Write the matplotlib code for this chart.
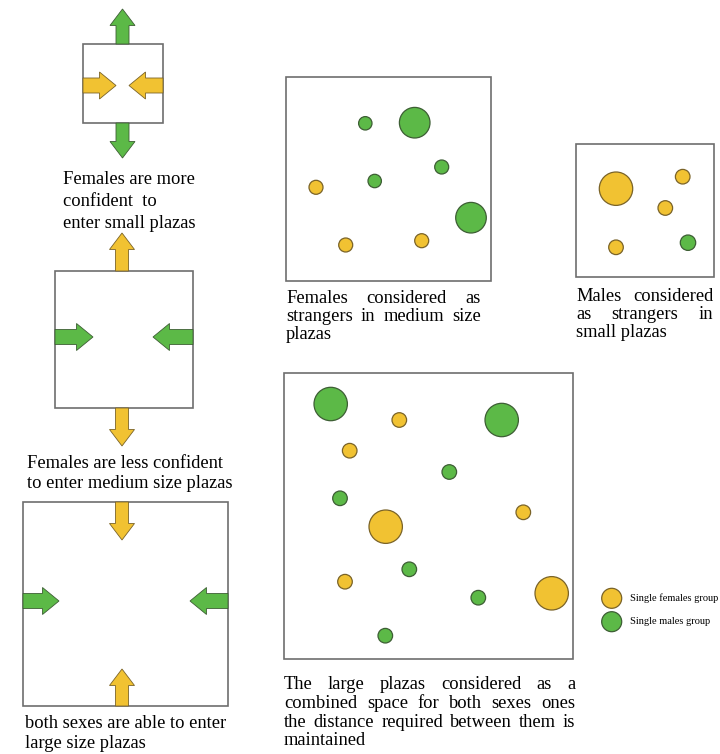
import matplotlib
matplotlib.use('Agg')
import matplotlib.pyplot as plt
from matplotlib.patches import Circle, Rectangle, FancyArrow

# ---- data (pixel coordinates of the original drawing) ----
GREEN, GREEN_EDGE = '#5cb947', '#3d5e34'
YELLOW, YELLOW_EDGE = '#f1c232', '#7a6328'

# plaza boxes: left, top, size
box_left = [83, 55, 23, 286, 576, 284]
box_top = [44, 271, 502, 77, 144, 373]
box_w = [80, 138, 205, 205, 138, 289]
box_h = [79, 137, 204, 204, 133, 286]

# block arrows: start x/y, end x/y, group
arrow_x0 = [122.5, 122.5, 83, 163, 122, 122, 55, 193, 122, 122, 23, 228]
arrow_y0 = [44, 123, 85.5, 85.5, 271, 408, 337, 337, 502, 706, 601, 601]
arrow_x1 = [122.5, 122.5, 116, 129, 122, 122, 93, 153, 122, 122, 59, 190]
arrow_y1 = [9, 158, 85.5, 85.5, 233, 446, 337, 337, 540, 669, 601, 601]
arrow_grp = ['m', 'm', 'f', 'f', 'f', 'f', 'm', 'm', 'f', 'f', 'm', 'm']

# groups in the medium plaza
med_x = [365.3, 414.7, 441.7, 374.7, 316, 471, 345.7, 421.7]
med_y = [123.3, 122.7, 167, 181, 187.3, 217.7, 245, 240.7]
med_r = [6.7, 15.3, 7, 6.7, 7, 15.3, 7, 7]
med_g = ['m', 'm', 'm', 'm', 'f', 'm', 'f', 'f']

# groups in the small plaza
small_x = [616, 682.7, 665.3, 616, 688]
small_y = [188.7, 176.7, 208, 247.3, 242.7]
small_r = [16.7, 7.3, 7.3, 7.3, 7.7]
small_g = ['f', 'f', 'f', 'f', 'm']

# groups in the large plaza
large_x = [330.7, 399.3, 501.7, 349.7, 449.3, 340, 523.3, 385.7, 409.3, 345, 478.3, 551.7, 385.3]
large_y = [404, 420, 420, 450.7, 472, 498.3, 512.3, 526.7, 569.3, 581.7, 597.7, 593.3, 635.7]
large_r = [16.7, 7.3, 16.7, 7.3, 7.3, 7.3, 7.3, 16.7, 7.3, 7.3, 7.3, 16.7, 7.3]
large_g = ['m', 'f', 'm', 'f', 'm', 'm', 'f', 'f', 'm', 'f', 'm', 'f', 'm']

legend_labels = ['Single females group', 'Single males group']

cap_small = ['Females are more', 'confident  to', 'enter small plazas']
cap_medium = ['Females are less confident', 'to enter medium size plazas']
cap_large = ['both sexes are able to enter', 'large size plazas']
cap_med_strangers = ['Females considered as', 'strangers in medium size', 'plazas']
cap_small_strangers = ['Males considered', 'as strangers in', 'small plazas']
cap_combined = ['The large plazas considered as a', 'combined space for both sexes ones',
                'the distance required between them is', 'maintained']

FONT = 'Liberation Serif'
FS = 13.3

fig = plt.figure(figsize=(7.2, 7.54), dpi=100)
ax = fig.add_axes([0, 0, 1, 1])
ax.set_xlim(0, 720)
ax.set_ylim(754, 0)
ax.axis('off')
renderer = fig.canvas.get_renderer()

fill = {'f': (YELLOW, YELLOW_EDGE), 'm': (GREEN, GREEN_EDGE)}

for l, t, w, h in zip(box_left, box_top, box_w, box_h):
    ax.add_patch(Rectangle((l, t), w, h, fc='white', ec='#6e6e6e', lw=1.2, zorder=1))

for x0, y0, x1, y1, g in zip(arrow_x0, arrow_y0, arrow_x1, arrow_y1, arrow_grp):
    horiz = y0 == y1
    ax.add_patch(FancyArrow(x0, y0, x1 - x0, y1 - y0, width=15 if horiz else 13,
                            head_width=27 if horiz else 25, head_length=16.5,
                            length_includes_head=True, fc=fill[g][0], ec=fill[g][1],
                            lw=0.6, zorder=3))

for xs, ys, rs, gs in [(med_x, med_y, med_r, med_g), (small_x, small_y, small_r, small_g),
                       (large_x, large_y, large_r, large_g)]:
    for x, y, r, g in zip(xs, ys, rs, gs):
        ax.add_patch(Circle((x, y), r, fc=fill[g][0], ec=fill[g][1], lw=0.9, zorder=3))

# legend
for i, (lab, g) in enumerate(zip(legend_labels, ['f', 'm'])):
    y = 598.3 + i * 23.4
    ax.add_patch(Circle((611.7, y), 10, fc=fill[g][0], ec=fill[g][1], lw=0.9))
    ax.text(629.5, y, lab, fontsize=7.5, family=FONT, va='center', ha='left')


def plain(lines, x, y0, step):
    for i, line in enumerate(lines):
        ax.text(x, y0 + i * step, line, fontsize=FS, family=FONT, va='baseline', ha='left')


def justified(lines, x_left, x_right, y0, step):
    for i, line in enumerate(lines):
        y = y0 + i * step
        words = line.split()
        if i == len(lines) - 1 or len(words) == 1:
            ax.text(x_left, y, line, fontsize=FS, family=FONT, va='baseline', ha='left')
            continue
        texts = [ax.text(0, y, w, fontsize=FS, family=FONT, va='baseline', ha='left') for w in words]
        widths = [t.get_window_extent(renderer).width for t in texts]
        gap = (x_right - x_left - sum(widths)) / (len(words) - 1)
        x = x_left
        for t, w in zip(texts, widths):
            t.set_x(x)
            x += w + gap


plain(cap_small, 63, 184.5, 21.5)
plain(cap_medium, 27, 468, 20)
plain(cap_large, 25, 728, 19.5)
justified(cap_med_strangers, 286, 481, 303, 18)
justified(cap_small_strangers, 576, 713, 301, 18)
justified(cap_combined, 284, 575, 689, 18.8)

fig.savefig('out.png', dpi=100)
